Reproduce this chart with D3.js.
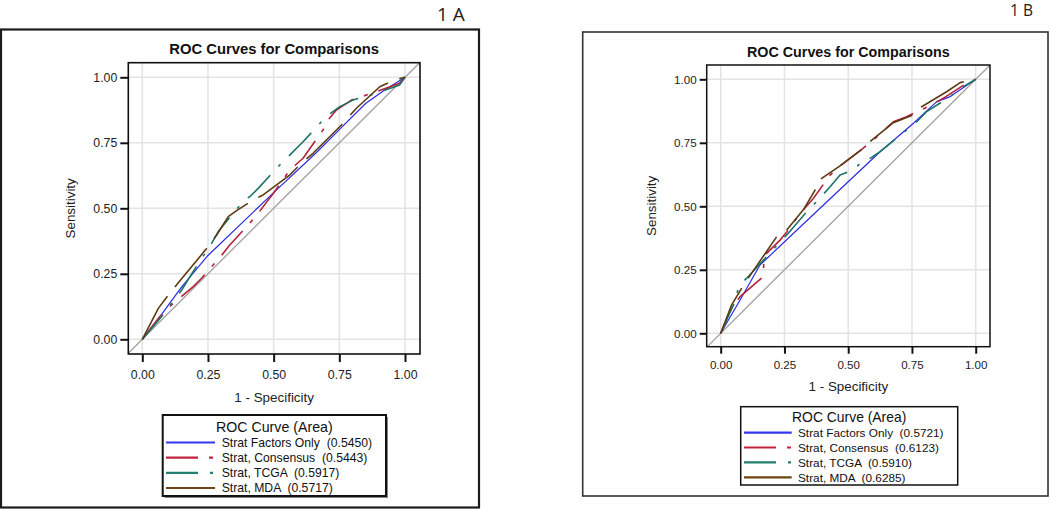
<!DOCTYPE html>
<html>
<head>
<meta charset="utf-8">
<script src="https://cdn.jsdelivr.net/npm/d3@7"></script>
<style>
  html, body { margin: 0; padding: 0; background: #fff; }
  svg { display: block; font-family: "Liberation Sans", Arial, sans-serif; }
</style>
</head>
<body>
<svg id="chart" width="1050" height="509"></svg>
<script>
// ---------------- data ----------------
const tickValues = [0, 0.25, 0.5, 0.75, 1];
const seriesNames = ["Strat Factors Only", "Strat, Consensus", "Strat, TCGA", "Strat, MDA"];
const areasA = ["0.5450", "0.5443", "0.5917", "0.5717"];
const areasB = ["0.5721", "0.6123", "0.5910", "0.6285"];
const chartTitle = "ROC Curves for Comparisons";
const xLabel = "1 - Specificity";
const yLabel = "Sensitivity";
const legendTitle = "ROC Curve (Area)";

// Panel 1 A  (1 - specificity, sensitivity)
const factorsA = [[0,0],[0.07,0.09],[0.15,0.2],[0.25,0.32],[0.5,0.56],[0.66,0.71],[0.75,0.8],[0.85,0.9],[0.92,0.95],[1,1]];
const consensusA = [[0,0],[0.067,0.087],[0.11,0.13],[0.194,0.201],[0.226,0.233],[0.308,0.328],[0.333,0.36],[0.409,0.443],[0.441,0.481],[0.504,0.564],[0.561,0.646],[0.612,0.691],[0.688,0.799],[0.707,0.837],[0.739,0.875],[0.796,0.913],[0.891,0.945],[0.98,0.977],[1,1]];
const tcgaA = [[0,0],[0.074,0.087],[0.15,0.188],[0.213,0.29],[0.257,0.354],[0.289,0.411],[0.346,0.481],[0.39,0.532],[0.41,0.545],[0.441,0.576],[0.523,0.665],[0.561,0.703],[0.612,0.754],[0.7,0.85],[0.752,0.888],[0.802,0.913],[0.891,0.939],[0.98,0.971],[1,1]];
const mdaA = [[0,0],[0.061,0.118],[0.099,0.169],[0.13,0.207],[0.251,0.354],[0.283,0.398],[0.327,0.468],[0.359,0.491],[0.422,0.532],[0.46,0.551],[0.561,0.627],[0.612,0.678],[0.65,0.71],[0.76,0.82],[0.815,0.882],[0.904,0.964],[0.96,0.99],[1,1]];

// Panel 1 B
const factorsB = [[0,0],[0.076,0.131],[0.154,0.269],[0.35,0.455],[0.625,0.715],[0.756,0.827],[0.847,0.912],[0.9,0.932],[1,1]];
const consensusB = [[0,0],[0.043,0.1],[0.076,0.144],[0.167,0.223],[0.17,0.305],[0.233,0.367],[0.26,0.4],[0.31,0.47],[0.363,0.531],[0.429,0.623],[0.468,0.659],[0.553,0.724],[0.599,0.761],[0.677,0.833],[0.729,0.853],[0.827,0.899],[0.88,0.93],[0.95,0.975],[1,1]];
const tcgaB = [[0,0],[0.04,0.09],[0.06,0.13],[0.069,0.184],[0.102,0.217],[0.18,0.302],[0.265,0.394],[0.344,0.486],[0.376,0.518],[0.429,0.577],[0.468,0.623],[0.52,0.643],[0.56,0.682],[0.586,0.689],[0.625,0.715],[0.769,0.833],[0.808,0.873],[0.9,0.932],[0.95,0.97],[1,1]];
const mdaB = [[0,0],[0.043,0.112],[0.082,0.177],[0.108,0.217],[0.22,0.381],[0.259,0.407],[0.324,0.486],[0.37,0.564],[0.396,0.61],[0.468,0.659],[0.553,0.724],[0.586,0.755],[0.677,0.829],[0.756,0.86],[0.788,0.892],[0.886,0.951],[0.939,0.987],[0.958,0.991],[1,1]];

// ---------------- styles ----------------
const seriesColors = ["#2a2ae6", "#b3203a", "#1d7466", "#5c3a12"];
const legendColors = ["#3636f0", "#c0243f", "#22806f", "#6e4514"];
const seriesDash = [null, "32,11,4,11", "32,12,3,12", "50,12"];
const seriesWidth = [1.2, 1.6, 1.6, 1.6];

const svg = d3.select("#chart");

function drawPanel(cfg) {
  const g = svg.append("g");
  // outer frame
  g.append("rect").attr("x", cfg.frame[0]).attr("y", cfg.frame[1])
    .attr("width", cfg.frame[2] - cfg.frame[0]).attr("height", cfg.frame[3] - cfg.frame[1])
    .attr("fill", "none").attr("stroke", cfg.frameColor).attr("stroke-width", cfg.frameWidth);
  // panel tag
  g.append("text").attr("x", cfg.tag.x).attr("y", cfg.tag.y)
    .attr("font-family", "'Open Sans', 'Noto Sans', sans-serif")
    .attr("font-size", cfg.tag.size).attr("fill", "#222").text(cfg.tag.text);

  const x = d3.scaleLinear().domain([0, 1]).range(cfg.xr);
  const y = d3.scaleLinear().domain([0, 1]).range(cfg.yr);
  const [bl, bt, br, bb] = cfg.box;

  // title
  g.append("text").attr("x", (bl + br) / 2).attr("y", cfg.titleY)
    .attr("text-anchor", "middle").attr("font-weight", "bold")
    .attr("font-size", cfg.titleSize).attr("fill", "#111").text(chartTitle);

  // clip
  const clipId = "clip" + cfg.id;
  svg.append("clipPath").attr("id", clipId).append("rect")
    .attr("x", bl).attr("y", bt).attr("width", br - bl).attr("height", bb - bt);

  // grid
  const grid = g.append("g");
  grid.selectAll(".gx").data(tickValues).join("line")
    .attr("x1", d => x(d)).attr("x2", d => x(d)).attr("y1", bt).attr("y2", bb)
    .attr("stroke", "#e3e3e3").attr("stroke-width", 1.5);
  grid.selectAll(".gy").data(tickValues).join("line")
    .attr("y1", d => y(d)).attr("y2", d => y(d)).attr("x1", bl).attr("x2", br)
    .attr("stroke", "#e3e3e3").attr("stroke-width", 1.5);

  const plot = g.append("g").attr("clip-path", `url(#${clipId})`);
  // diagonal reference
  plot.append("line").attr("x1", x(-0.2)).attr("y1", y(-0.2)).attr("x2", x(1.2)).attr("y2", y(1.2))
    .attr("stroke", "#9a9a9a").attr("stroke-width", 1.2);

  const line = d3.line().x(d => x(d[0])).y(d => y(d[1]));
  cfg.series.forEach((s, i) => {
    plot.append("path").datum(s).attr("d", line)
      .attr("fill", "none").attr("stroke", seriesColors[i])
      .attr("stroke-width", seriesWidth[i])
      .attr("stroke-dasharray", seriesDash[i])
      .attr("stroke-dashoffset", cfg.dashOffset[i])
      .attr("stroke-linejoin", "round");
  });

  // box
  g.append("rect").attr("x", bl).attr("y", bt).attr("width", br - bl).attr("height", bb - bt)
    .attr("fill", "none").attr("stroke", "#111").attr("stroke-width", cfg.boxWidth);

  // axes
  const fmt = d3.format(".2f");
  const yAxis = d3.axisLeft(y).tickValues(tickValues).tickFormat(fmt).tickSize(cfg.tickLen).tickPadding(3);
  const xAxis = d3.axisBottom(x).tickValues(tickValues).tickFormat(fmt).tickSize(cfg.tickLen).tickPadding(cfg.xPad);
  const ya = g.append("g").attr("transform", `translate(${bl},0)`).call(yAxis);
  const xa = g.append("g").attr("transform", `translate(0,${bb})`).call(xAxis);
  [ya, xa].forEach(a => {
    a.select(".domain").remove();
    a.selectAll(".tick line").attr("stroke", "#111").attr("stroke-width", 2);
    a.selectAll(".tick text").attr("font-size", cfg.tickSize).attr("fill", "#222")
      .attr("font-family", "'Liberation Sans', Arial, sans-serif");
  });

  // axis labels
  g.append("text").attr("x", (bl + br) / 2).attr("y", cfg.xLabelY).attr("text-anchor", "middle")
    .attr("font-size", cfg.labelSize).attr("fill", "#222").text(xLabel);
  g.append("text").attr("transform", `translate(${cfg.yLabelX},${(bt + bb) / 2}) rotate(-90)`)
    .attr("text-anchor", "middle").attr("font-size", cfg.labelSize).attr("fill", "#222").text(yLabel);

  // legend
  const L = cfg.legend;
  if (cfg.id === "A") {
    g.append("rect").attr("x", L.box[0] + 2).attr("y", L.box[1] + 2)
      .attr("width", L.box[2] - L.box[0]).attr("height", L.box[3] - L.box[1])
      .attr("fill", "#888");
  }
  g.append("rect").attr("x", L.box[0]).attr("y", L.box[1])
    .attr("width", L.box[2] - L.box[0]).attr("height", L.box[3] - L.box[1])
    .attr("fill", "#fff").attr("stroke", "#111").attr("stroke-width", L.stroke);
  g.append("text").attr("x", (L.box[0] + L.box[2]) / 2).attr("y", L.titleY)
    .attr("text-anchor", "middle").attr("font-size", L.titleSize).attr("fill", "#111").text(legendTitle);
  seriesNames.forEach((name, i) => {
    const yy = L.rowY[i];
    g.append("line").attr("x1", L.lineX[0]).attr("x2", L.lineX[1]).attr("y1", yy).attr("y2", yy)
      .attr("stroke", legendColors[i]).attr("stroke-width", 2.2)
      .attr("stroke-dasharray", seriesDash[i]);
    g.append("text").attr("x", L.textX).attr("y", yy).attr("dy", "0.36em")
      .attr("font-size", L.size).attr("fill", "#111")
      .attr("xml:space", "preserve").style("white-space", "pre")
      .text(`${name}  (${cfg.areas[i]})`);
  });
}

drawPanel({
  id: "A",
  frame: [1, 29.5, 479, 507.5], frameColor: "#1b1b1b", frameWidth: 2.2,
  tag: { x: 437, y: 21, size: 19, text: "1 A" },
  xr: [142.3, 405], yr: [339.3, 77.3],
  box: [128.3, 62.7, 420, 354], boxWidth: 1.6,
  titleY: 54, titleSize: 14.8,
  tickLen: 8, tickSize: 12.3, xPad: 8,
  labelSize: 13.4, xLabelY: 401.5, yLabelX: 75,
  series: [factorsA, consensusA, tcgaA, mdaA], areas: areasA, dashOffset: [0, 0, 0, 0],
  legend: { box: [162.7, 415, 386, 496], stroke: 2, titleY: 431.5, titleSize: 14.2,
            rowY: [442.5, 457.7, 472.8, 488], lineX: [166, 215], textX: 221.7, size: 12.2 }
});

drawPanel({
  id: "B",
  frame: [582.7, 32, 1048, 496], frameColor: "#333", frameWidth: 1.6,
  tag: { x: 1010, y: 16, size: 15.5, text: "1 B" },
  xr: [720.7, 975.7], yr: [333.3, 79.3],
  box: [706.7, 65, 990, 346.7], boxWidth: 1.5,
  titleY: 56.7, titleSize: 14.3,
  tickLen: 7, tickSize: 11.6, xPad: 7,
  labelSize: 13.4, xLabelY: 391, yLabelX: 656,
  series: [factorsB, consensusB, tcgaB, mdaB], areas: areasB, dashOffset: [0, 20, 0, 0],
  legend: { box: [740.7, 406.7, 957.7, 485], stroke: 1.5, titleY: 421.5, titleSize: 13.9,
            rowY: [432.7, 447.5, 462.4, 477.3], lineX: [744, 791.7], textX: 798, size: 11.8 }
});
</script>
</body>
</html>
